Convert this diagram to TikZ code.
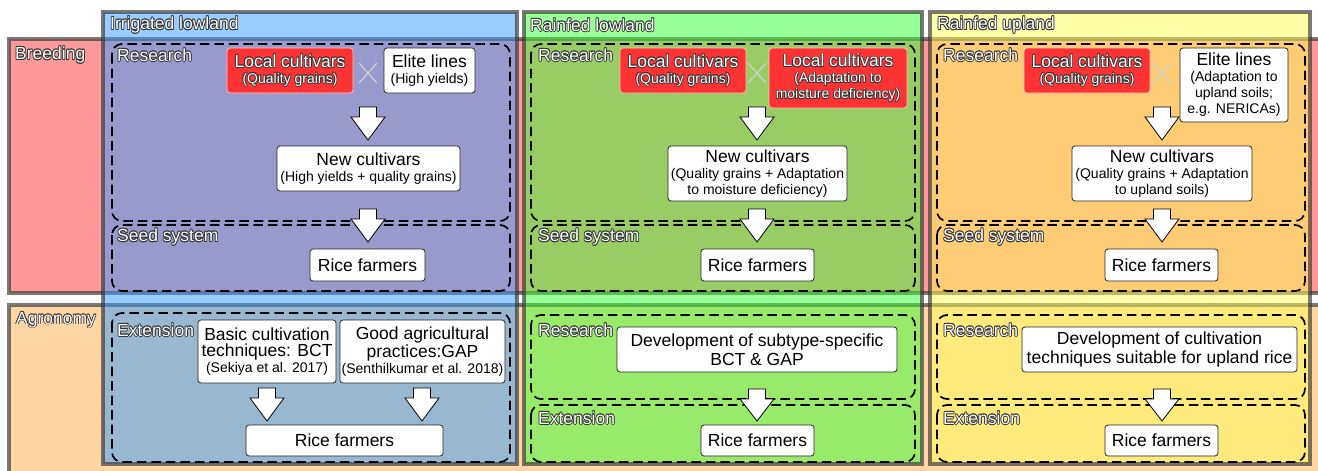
\documentclass[tikz,border=0pt]{standalone}
\usepackage{fontspec}
\setmainfont{Liberation Sans}
\definecolor{pinkb}{RGB}{255,153,153}
\definecolor{peach}{RGB}{255,214,163}
\definecolor{colA}{RGB}{51,153,255}
\definecolor{colB}{RGB}{51,255,51}
\definecolor{colC}{RGB}{255,255,85}
\definecolor{redb}{RGB}{255,51,51}
\definecolor{hc}{RGB}{50,50,50}
\newcommand\fa{\fontsize{17.5}{19}\selectfont}
\newcommand\fb{\fontsize{14}{16}\selectfont}
\newcommand\halo[1]{\leavevmode
 \rlap{\textcolor{hc}{\kern-.75pt#1}}\rlap{\textcolor{hc}{\kern.75pt#1}}%
 \rlap{\textcolor{hc}{\raisebox{.75pt}{#1}}}\rlap{\textcolor{hc}{\raisebox{-.75pt}{#1}}}%
 \rlap{\textcolor{hc}{\kern.55pt\raisebox{.55pt}{#1}}}\rlap{\textcolor{hc}{\kern-.55pt\raisebox{.55pt}{#1}}}%
 \rlap{\textcolor{hc}{\kern.55pt\raisebox{-.55pt}{#1}}}\rlap{\textcolor{hc}{\kern-.55pt\raisebox{-.55pt}{#1}}}%
 \textcolor{white}{#1}}
\newcommand\barrow[3]{\draw[barr] (#1-8.5,#2) -- (#1+8.5,#2) -- (#1+8.5,#2+10) -- (#1+17,#2+10) -- (#1,#3) -- (#1-17,#2+10) -- (#1-8.5,#2+10) -- cycle;}
\newcommand\crossmark[2]{\draw[crs] (#1-9,#2-10) -- (#1+9,#2+10) (#1-9,#2+10) -- (#1+9,#2-10);}
\tikzset{
 bandbox/.style={draw=black!80, draw opacity=0.65, line width=3.5pt},
 colbox/.style={fill opacity=0.5, draw=black!80, draw opacity=0.65, line width=3.5pt},
 dbox/.style={draw=black, line width=1.7pt, dash pattern=on 9.5pt off 5pt, rounded corners=10pt},
 lab/.style={anchor=west, inner sep=0pt, font=\fa},
 wbox/.style={draw=black!85, fill=white, line width=0.8pt, rounded corners=3pt, align=center, inner sep=0pt, font=\fb},
 rbox/.style={draw=white!70!redb, fill=redb, line width=0.8pt, rounded corners=3pt, align=center, inner sep=0pt, font=\fb},
 barr/.style={draw=black, fill=white, line width=0.8pt, line join=miter},
 crs/.style={draw=gray!35, line width=1.2pt}
}
\begin{document}
\begin{tikzpicture}[x=1pt,y=-1pt]
\useasboundingbox (0,0) rectangle (1318,471);
\clip (0,0) rectangle (1318,471);
% row bands
\draw[bandbox, fill=pinkb] (9,39) rectangle (1340,293);
\draw[bandbox, fill=peach] (9,305) rectangle (1340,490);
% column bands
\draw[colbox, fill=colA] (103,12) rectangle (517,464);
\draw[colbox, fill=colB] (524,12) rectangle (922,464);
\draw[colbox, fill=colC] (930,12) rectangle (1310,464);
% band labels
\node[lab] (h1) at (110,25) {\halo{Irrigated lowland}};
\node[lab] (h2) at (530,25) {\halo{Rainfed lowland}};
\node[lab] (h3) at (937,25) {\halo{Rainfed upland}};
\node[lab] (br) at (15,55) {\halo{Breeding}};
\node[lab] (ag) at (16,320) {\halo{Agronomy}};
% dashed boxes
\draw[dbox] (112,44) rectangle (510,221);
\draw[dbox] (112,225) rectangle (510,291);
\draw[dbox] (112,313) rectangle (510,462);
\draw[dbox] (531,44) rectangle (915,221);
\draw[dbox] (531,225) rectangle (915,291);
\draw[dbox] (531,315) rectangle (915,399);
\draw[dbox] (531,405) rectangle (915,462);
\draw[dbox] (937,44) rectangle (1305,221);
\draw[dbox] (937,225) rectangle (1305,291);
\draw[dbox] (937,315) rectangle (1305,399);
\draw[dbox] (937,405) rectangle (1305,462);
% section labels
\node[lab] (r1) at (117,55) {\halo{Research}};
\node[lab] (s1) at (117,237) {\halo{Seed system}};
\node[lab] (e1) at (117,330) {\halo{Extension}};
\node[lab] (r2) at (538,55) {\halo{Research}};
\node[lab] (s2) at (538,237) {\halo{Seed system}};
\node[lab] (r2b) at (538,330) {\halo{Research}};
\node[lab] (e2) at (538,418) {\halo{Extension}};
\node[lab] (r3) at (943,55) {\halo{Research}};
\node[lab] (s3) at (943,237) {\halo{Seed system}};
\node[lab] (r3b) at (943,330) {\halo{Research}};
\node[lab] (e3) at (943,418) {\halo{Extension}};
% Irrigated lowland
\node[rbox, minimum width=126pt, minimum height=45pt] (lc1) at (290,70.5) {{\fa\halo{Local cultivars}}\\\halo{(Quality grains)}};
\crossmark{368}{73}
\node[wbox, minimum width=91pt, minimum height=45pt] (el1) at (429.5,70.5) {{\fa Elite lines}\\(High yields)};
\barrow{368}{107}{140}
\node[wbox, minimum width=183pt, minimum height=45pt] (nc1) at (368.5,168.5) {{\fa New cultivars}\\(High yields + quality grains)};
\barrow{368}{209}{242}
\node[wbox, font=\fa, minimum width=115pt, minimum height=32pt] (rf1) at (367.5,265) {Rice farmers};
\node[wbox, minimum width=138pt, minimum height=63pt] (bct) at (267,351.5) {{\fa Basic cultivation}\\{\fa techniques: BCT}\\(Sekiya et al. 2017)};
\node[wbox, minimum width=165pt, minimum height=63pt] (gap) at (422.5,351.5) {{\fa Good agricultural}\\{\fa practices:GAP}\\(Senthilkumar et al. 2018)};
\barrow{267}{388}{421}
\barrow{422}{388}{421}
\node[wbox, font=\fa, minimum width=197pt, minimum height=31pt] (rf2) at (344.5,440.5) {Rice farmers};
% Rainfed lowland
\node[rbox, minimum width=126pt, minimum height=45pt] (lc2) at (683,70.5) {{\fa\halo{Local cultivars}}\\\halo{(Quality grains)}};
\crossmark{757}{73}
\node[rbox, minimum width=138pt, minimum height=60pt] (lc3) at (838,78) {{\fa\halo{Local cultivars}}\\\halo{(Adaptation to}\\\halo{moisture deficiency)}};
\barrow{757}{107}{140}
\node[wbox, minimum width=179pt, minimum height=55pt] (nc2) at (757.5,173.5) {{\fa New cultivars}\\(Quality grains + Adaptation\\to moisture deficiency)};
\barrow{757}{209}{242}
\node[wbox, font=\fa, minimum width=113pt, minimum height=32pt] (rf3) at (757.5,265) {Rice farmers};
\node[wbox, font=\fa, minimum width=280pt, minimum height=45pt] (dev1) at (757,349.5) {Development of subtype-specific\\BCT \& GAP};
\barrow{757}{389}{421}
\node[wbox, font=\fa, minimum width=113pt, minimum height=31pt] (rf4) at (757.5,440.5) {Rice farmers};
% Rainfed upland
\node[rbox, minimum width=126pt, minimum height=45pt] (lc4) at (1087,70.5) {{\fa\halo{Local cultivars}}\\\halo{(Quality grains)}};
\crossmark{1162}{73}
\node[wbox, minimum width=108pt, minimum height=74pt] (el2) at (1234,85) {{\fa Elite lines}\\(Adaptation to\\upland soils;\\e.g. NERICAs)};
\barrow{1162}{107}{140}
\node[wbox, minimum width=180pt, minimum height=55pt] (nc3) at (1162,173.5) {{\fa New cultivars}\\(Quality grains + Adaptation\\to upland soils)};
\barrow{1162}{209}{242}
\node[wbox, font=\fa, minimum width=113pt, minimum height=32pt] (rf5) at (1161.5,265) {Rice farmers};
\node[wbox, font=\fa, minimum width=275pt, minimum height=45pt] (dev2) at (1159.5,349.5) {Development of cultivation\\techniques suitable for upland rice};
\barrow{1162}{389}{421}
\node[wbox, font=\fa, minimum width=113pt, minimum height=31pt] (rf6) at (1161.5,440.5) {Rice farmers};
\end{tikzpicture}
\end{document}
